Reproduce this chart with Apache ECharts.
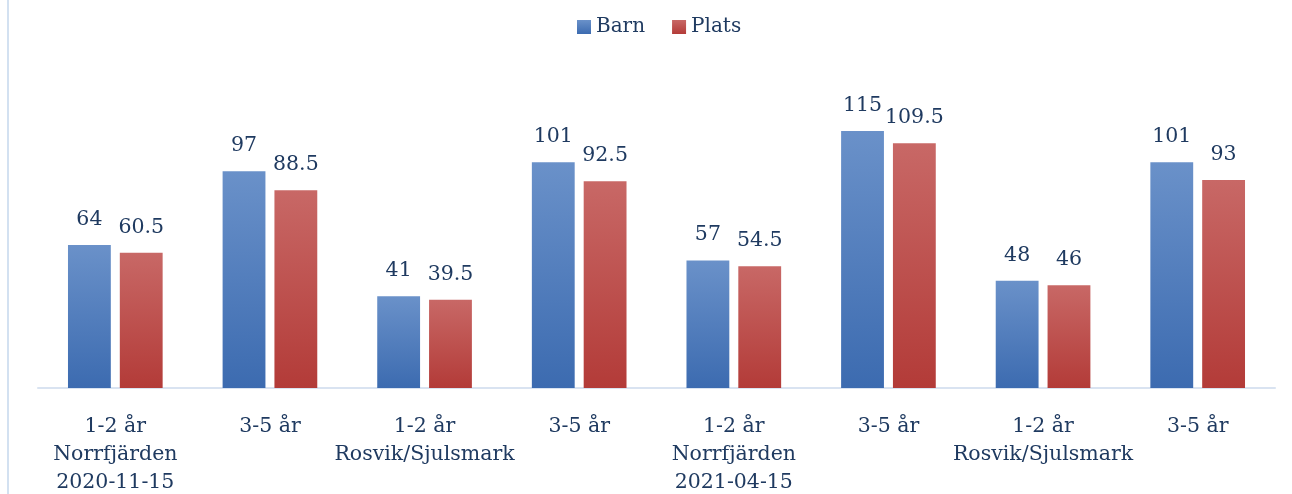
<!DOCTYPE html>
<html><head><meta charset="utf-8">
<script src="https://cdn.jsdelivr.net/npm/echarts@6/dist/echarts.min.js"></script>
<style>html,body{margin:0;padding:0;background:#fff}#c{width:1292px;height:494px}</style>
</head><body><div id="c"></div>
<script>
const categories = [
  "1-2 år\nNorrfjärden\n2020-11-15", "3-5 år",
  "1-2 år\nRosvik/Sjulsmark", "3-5 år",
  "1-2 år\nNorrfjärden\n2021-04-15", "3-5 år",
  "1-2 år\nRosvik/Sjulsmark", "3-5 år"
];
const barn = [64, 97, 41, 101, 57, 115, 48, 101];
const plats = [60.5, 88.5, 39.5, 92.5, 54.5, 109.5, 46, 93];

const FONT = "DejaVu Serif";
const TXT = "#1f3a60";
function grad(top, bottom){
  return new echarts.graphic.LinearGradient(0,0,0,1,[{offset:0,color:top},{offset:1,color:bottom}]);
}
const chart = echarts.init(document.getElementById('c'), null, {renderer:'canvas'});
chart.setOption({
  animation:false,
  backgroundColor:'#ffffff',
  graphic:[{type:'rect',shape:{x:7,y:0,width:2,height:494},style:{fill:'#d3e1f1'}}],
  legend:{
    top:12, left:572, itemWidth:14, itemHeight:14, itemGap:27,
    textStyle:{fontFamily:FONT, fontSize:20, color:TXT, padding:[0,0,0,0]},
    data:[{name:'Barn',icon:'rect'},{name:'Plats',icon:'rect'}]
  },
  grid:{left:38,right:17,top:75,bottom:106,containLabel:false,outerBoundsMode:'none'},
  xAxis:{
    type:'category', data:categories,
    axisLine:{lineStyle:{color:'#d9e3f1',width:2}},
    axisTick:{show:false},
    axisLabel:{interval:0, margin:25, lineHeight:28, fontFamily:FONT, fontSize:20.5, color:TXT, verticalAlign:'top'}
  },
  yAxis:{type:'value', min:0, max:140, show:false, splitLine:{show:false}},
  series:[
    {name:'Barn', type:'bar', data:barn, barWidth:'27.7%', barGap:'21%',
     itemStyle:{color:grad('#6a91c9','#3c6bb0')},
     label:{show:true, position:'top', distance:15, fontFamily:FONT, fontSize:20.5, color:TXT}},
    {name:'Plats', type:'bar', data:plats, barWidth:'27.7%',
     itemStyle:{color:grad('#c86866','#b33b38')},
     label:{show:true, position:'top', distance:15, fontFamily:FONT, fontSize:20.5, color:TXT}}
  ]
});
</script></body></html>
